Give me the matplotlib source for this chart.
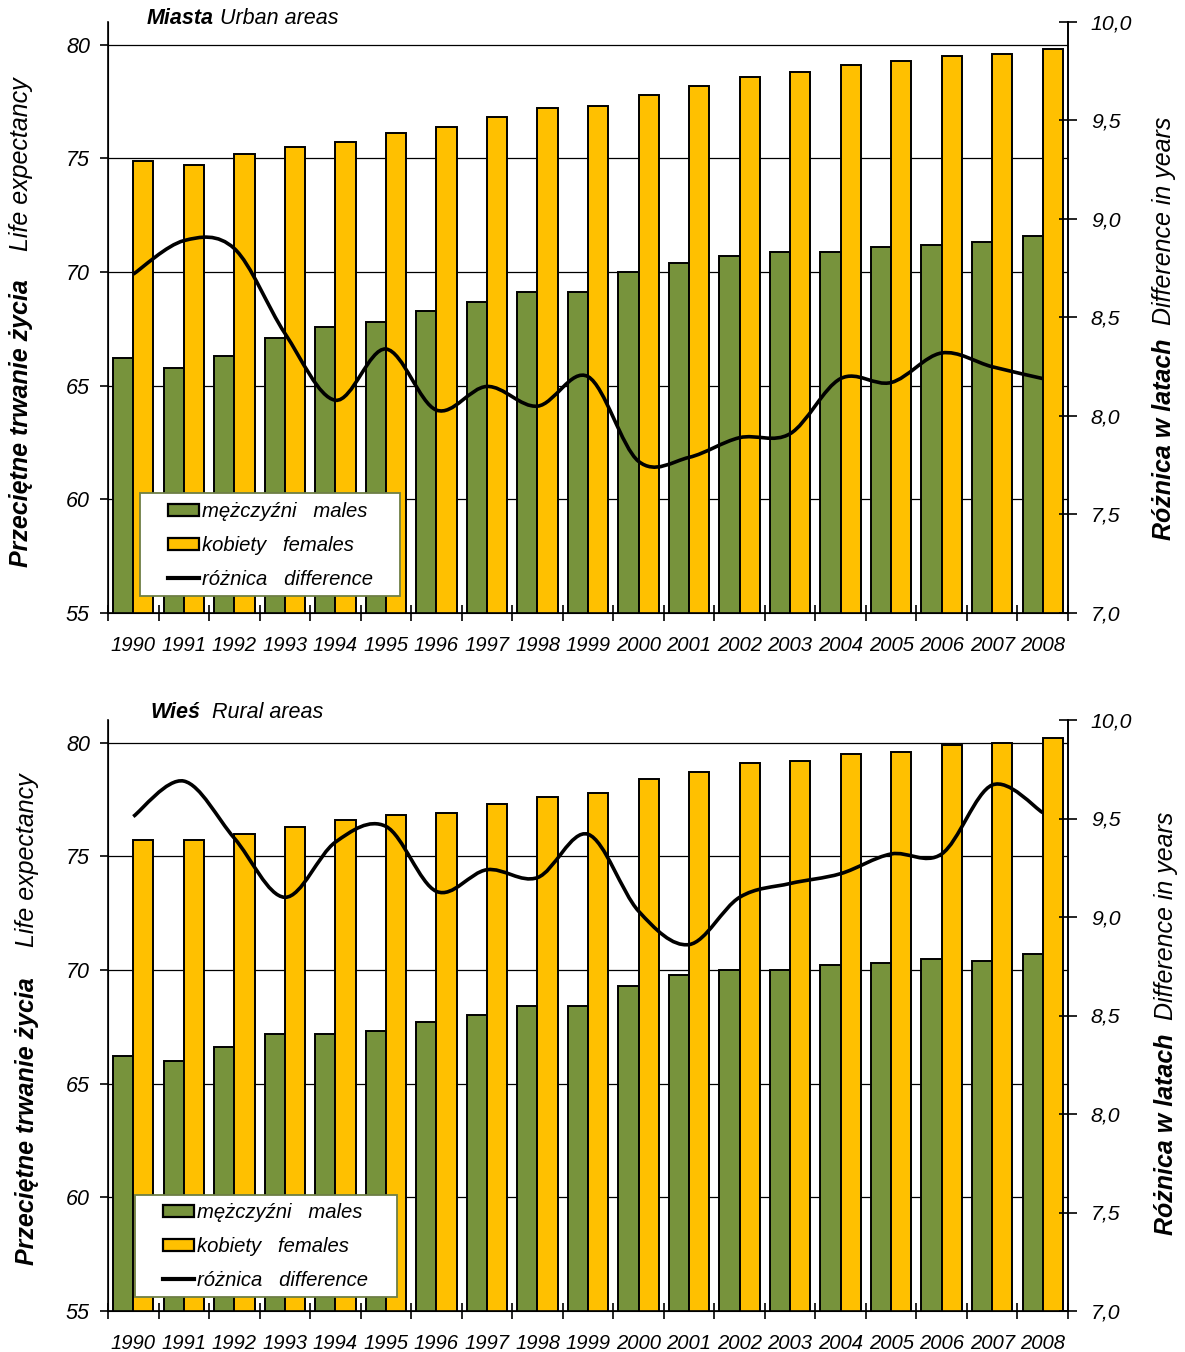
import numpy as np
import matplotlib
matplotlib.use('Agg')
import matplotlib.pyplot as plt
from matplotlib.path import Path
from matplotlib.patches import PathPatch, Rectangle, Patch
from matplotlib.lines import Line2D

plt.rcParams['font.family'] = ['Liberation Sans', 'DejaVu Sans']

# ---------------- data ----------------
years = [str(y) for y in range(1990, 2009)]
urban_males = [66.2, 65.8, 66.3, 67.1, 67.6, 67.8, 68.3, 68.7, 69.1, 69.1,
               70.0, 70.4, 70.7, 70.9, 70.9, 71.1, 71.2, 71.3, 71.6]
urban_females = [74.9, 74.7, 75.2, 75.5, 75.7, 76.1, 76.4, 76.8, 77.2, 77.3,
                 77.8, 78.2, 78.6, 78.8, 79.1, 79.3, 79.5, 79.6, 79.8]
urban_diff = [8.72, 8.89, 8.85, 8.42, 8.08, 8.34, 8.03, 8.15, 8.05, 8.20,
              7.77, 7.79, 7.89, 7.91, 8.19, 8.17, 8.32, 8.25, 8.19]
rural_males = [66.2, 66.0, 66.6, 67.2, 67.2, 67.3, 67.7, 68.0, 68.4, 68.4,
               69.3, 69.8, 70.0, 70.0, 70.2, 70.3, 70.5, 70.4, 70.7]
rural_females = [75.7, 75.7, 76.0, 76.3, 76.6, 76.8, 76.9, 77.3, 77.6, 77.8,
                 78.4, 78.7, 79.1, 79.2, 79.5, 79.6, 79.9, 80.0, 80.2]
rural_diff = [9.51, 9.69, 9.40, 9.10, 9.38, 9.46, 9.13, 9.24, 9.20, 9.42,
              9.03, 8.86, 9.10, 9.17, 9.22, 9.32, 9.32, 9.67, 9.53]

left_ticks = [55, 60, 65, 70, 75, 80]
right_ticks = [7.0, 7.5, 8.0, 8.5, 9.0, 9.5, 10.0]
right_tick_labels = ["7,0", "7,5", "8,0", "8,5", "9,0", "9,5", "10,0"]

legend_labels = ["mężczyźni   males", "kobiety   females", "różnica   difference"]
ylabel_left = ("Przeciętne trwanie życia", "Life expectancy")
ylabel_right = ("Różnica w latach", "Difference in years")
titles = [("Miasta", " Urban areas"), ("Wieś", "  Rural areas")]

GREEN = '#77933C'
ORANGE = '#FFC000'

W, H = 1185, 1352
fig = plt.figure(figsize=(W / 100, H / 100), dpi=100)


def fx(px):
    return px / W


def fy(py):
    return 1 - py / H


def smooth_path(x, y):
    """Excel-like smoothed line as cubic Bezier segments through the data points."""
    pts = np.column_stack([x, y]).astype(float)
    n = len(pts)
    verts = [pts[0]]
    codes = [Path.MOVETO]
    for i in range(n - 1):
        p0 = pts[max(i - 1, 0)]
        p1 = pts[i]
        p2 = pts[i + 1]
        p3 = pts[min(i + 2, n - 1)]
        c1 = p1 + (p2 - p0) / 6.0
        c2 = p2 - (p3 - p1) / 6.0
        verts += [c1, c2, p2]
        codes += [Path.CURVE4] * 3
    return Path(verts, codes)


def panel(top_px, bottom_px, males, females, diff, leg_box, leg_anchor):
    left_px, right_px = 108, 1068
    ax = fig.add_axes([fx(left_px), fy(bottom_px), (right_px - left_px) / W,
                       (bottom_px - top_px) / H])
    n = len(years)
    idx = np.arange(n)
    ax.bar(idx - 0.2, males, width=0.4, color=GREEN, edgecolor='black',
           linewidth=1.4, zorder=2)
    ax.bar(idx + 0.2, females, width=0.4, color=ORANGE, edgecolor='black',
           linewidth=1.4, zorder=2)
    ax.set_xlim(-0.5, n - 0.5)
    ax.set_ylim(55, 81.0)
    ax.set_yticks(left_ticks)
    ax.set_yticklabels([str(t) for t in left_ticks], fontsize=15.5, style='italic')
    ax.yaxis.grid(True, color='black', linewidth=0.9)
    ax.set_axisbelow(True)
    ax.tick_params(axis='y', direction='out', length=6, width=1.2, pad=7)
    ax.set_xticks(idx)
    ax.set_xticklabels(years, fontsize=14.6, style='italic')
    ax.tick_params(axis='x', which='major', length=0, pad=16.5)
    ax.set_xticks(np.arange(n + 1) - 0.5, minor=True)
    ax.tick_params(axis='x', which='minor', direction='inout', length=11, width=1.2)
    ax.spines['top'].set_visible(False)
    for s in ('left', 'bottom', 'right'):
        ax.spines[s].set_linewidth(1.2)

    ax2 = ax.twinx()
    ax2.set_ylim(7.0, 10.0)
    ax2.set_yticks(right_ticks)
    ax2.set_yticklabels(right_tick_labels, fontsize=15.3, style='italic')
    ax2.tick_params(axis='y', direction='inout', length=13, width=1.2, pad=10)
    ax2.spines['top'].set_visible(False)
    ax2.spines['right'].set_linewidth(1.2)
    ax2.add_patch(PathPatch(smooth_path(idx, diff), facecolor='none',
                            edgecolor='black', linewidth=2.6, zorder=3,
                            capstyle='butt'))

    # legend frame
    bx0, by0, bx1, by1 = leg_box
    rect = Rectangle(((bx0 - left_px) / (right_px - left_px),
                      (bottom_px - by1) / (bottom_px - top_px)),
                     (bx1 - bx0) / (right_px - left_px),
                     (by1 - by0) / (bottom_px - top_px),
                     transform=ax2.transAxes, facecolor='white',
                     edgecolor='#6E7F45', linewidth=1.3, zorder=5)
    ax2.add_patch(rect)
    handles = [Patch(facecolor=GREEN, edgecolor='black', linewidth=1.6),
               Patch(facecolor=ORANGE, edgecolor='black', linewidth=1.6),
               Line2D([0], [0], color='black', linewidth=3)]
    ax_, ay_ = leg_anchor
    leg = ax2.legend(handles, legend_labels, loc='upper left',
                     bbox_to_anchor=((ax_ - left_px) / (right_px - left_px),
                                     (bottom_px - ay_) / (bottom_px - top_px)),
                     frameon=False, borderpad=0, borderaxespad=0,
                     handlelength=1.55, handleheight=0.55, handletextpad=0.12,
                     labelspacing=0.74,
                     prop={'style': 'italic', 'size': 14.6})
    leg.set_zorder(6)
    return ax, ax2


panel(22, 613, urban_males, urban_females, urban_diff,
      (140, 493, 400, 596), (168, 502))
panel(720, 1311, rural_males, rural_females, rural_diff,
      (135, 1195, 397, 1297), (163, 1203))

renderer = fig.canvas.get_renderer()


def title(parts, x_px, y_px):
    t1 = fig.text(fx(x_px), fy(y_px), parts[0], fontsize=15.5, fontweight='bold',
                  style='italic', ha='left', va='center')
    bb = t1.get_window_extent(renderer)
    fig.text(bb.x1 / W, fy(y_px), parts[1], fontsize=15.5, style='italic',
             ha='left', va='center')


def vlabel(parts, x_px, y_bold_px, y_ital_px):
    fig.text(fx(x_px), fy(y_bold_px), parts[0], fontsize=18, fontweight='bold',
             style='italic', rotation=90, ha='center', va='bottom')
    fig.text(fx(x_px), fy(y_ital_px), parts[1], fontsize=18, style='italic',
             rotation=90, ha='center', va='bottom')


title(titles[0], 147, 18)
title(titles[1], 150, 713)
vlabel(ylabel_left, 21, 567, 251)
vlabel(ylabel_left, 27, 1265, 947)
vlabel(ylabel_right, 1164, 540, 325)
vlabel(ylabel_right, 1166, 1235, 1020)

fig.savefig('out.png', dpi=100)
